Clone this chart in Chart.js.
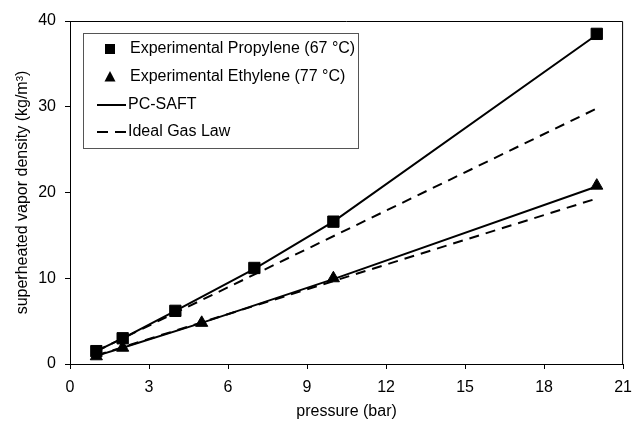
<!DOCTYPE html>
<html><head><meta charset="utf-8">
<script src="https://cdn.jsdelivr.net/npm/chart.js@4"></script>
<style>html,body{margin:0;padding:0;background:#fff}#wrap{width:641px;height:426px}</style>
</head><body><div id="wrap"><canvas id="c" width="641" height="426"></canvas></div>
<script>
const propExpX = [1, 2, 4, 7, 10, 20];
const propExpY = [1.5, 3.0, 6.2, 11.2, 16.6, 38.5];
const ethExpX = [1, 2, 5, 10, 20];
const ethExpY = [0.9, 1.9, 4.8, 10.0, 20.8];
const propSaftX = [1, 2, 4, 7, 10, 20];
const propSaftY = [1.5, 3.0, 6.2, 11.1, 16.6, 38.4];
const ethSaftX = [1, 2, 5, 10, 20];
const ethSaftY = [0.95, 1.9, 4.8, 9.9, 20.7];
const propIdealX = [1, 20];
const propIdealY = [1.5, 29.8];
const ethIdealX = [1, 20];
const ethIdealY = [1.0, 19.3];
const xTicks = [0, 3, 6, 9, 12, 15, 18, 21];
const yTicks = [0, 10, 20, 30, 40];

const pts = (xs, ys) => xs.map((x, i) => ({x, y: ys[i]}));
const FONT = "'Liberation Sans', Arial, sans-serif";

const legendItems = [
  {label: 'Experimental Propylene (67 °C)', type: 'rect'},
  {label: 'Experimental Ethylene (77 °C)', type: 'triangle'},
  {label: 'PC-SAFT', type: 'solid'},
  {label: 'Ideal Gas Law', type: 'dash'}
];

const framePlugin = {
  id: 'frame',
  afterDraw(chart) {
    const {ctx, chartArea: a} = chart;
    ctx.save();
    ctx.strokeStyle = '#000';
    ctx.lineWidth = 1;
    ctx.beginPath();
    ctx.moveTo(a.left, a.top + 0.5);
    ctx.lineTo(a.right - 0.5, a.top + 0.5);
    ctx.lineTo(a.right - 0.5, a.bottom);
    ctx.stroke();
    // legend
    const bx = 83.5, by = 33.5, bw = 275, bh = 115;
    ctx.strokeStyle = '#555';
    ctx.fillStyle = '#fff';
    ctx.fillRect(bx, by, bw, bh);
    ctx.strokeRect(bx, by, bw, bh);
    ctx.font = '16px ' + FONT;
    ctx.textBaseline = 'middle';
    const rows = [49, 77, 105, 132];
    legendItems.forEach((it, i) => {
      const y = rows[i];
      ctx.fillStyle = '#000';
      ctx.strokeStyle = '#000';
      if (it.type === 'rect') {
        ctx.fillRect(105, y - 5, 10, 10);
        ctx.fillText(it.label, 130, y);
      } else if (it.type === 'triangle') {
        ctx.beginPath();
        ctx.moveTo(110, y - 6);
        ctx.lineTo(115.5, y + 4.5);
        ctx.lineTo(104.5, y + 4.5);
        ctx.closePath();
        ctx.fill();
        ctx.fillText(it.label, 130, y);
      } else {
        ctx.lineWidth = 2;
        ctx.setLineDash(it.type === 'dash' ? [11, 7] : []);
        ctx.beginPath();
        ctx.moveTo(97, y);
        ctx.lineTo(126, y);
        ctx.stroke();
        ctx.setLineDash([]);
        ctx.fillText(it.label, 128, y);
      }
    });
    ctx.restore();
  }
};

new Chart(document.getElementById('c'), {
  type: 'scatter',
  data: {
    datasets: [
      {label: 'PC-SAFT', data: pts(propSaftX, propSaftY), showLine: true, borderColor: '#000', borderWidth: 2, pointRadius: 0, fill: false},
      {label: 'PC-SAFT ethylene', data: pts(ethSaftX, ethSaftY), showLine: true, borderColor: '#000', borderWidth: 2, pointRadius: 0, fill: false},
      {label: 'Ideal Gas Law', data: pts(propIdealX, propIdealY), showLine: true, borderColor: '#000', borderWidth: 2, borderDash: [10, 7], pointRadius: 0, fill: false},
      {label: 'Ideal Gas Law ethylene', data: pts(ethIdealX, ethIdealY), showLine: true, borderColor: '#000', borderWidth: 2, borderDash: [10, 7], pointRadius: 0, fill: false},
      {label: 'Experimental Propylene (67 °C)', data: pts(propExpX, propExpY), pointStyle: 'rect', pointRadius: 8, backgroundColor: '#000', borderColor: '#000', borderWidth: 1},
      {label: 'Experimental Ethylene (77 °C)', data: pts(ethExpX, ethExpY), pointStyle: 'triangle', pointRadius: 7, backgroundColor: '#000', borderColor: '#000', borderWidth: 1}
    ]
  },
  options: {
    responsive: false,
    animation: false,
    layout: {padding: {top: 21, right: 11, left: 0, bottom: 0}},
    plugins: {legend: {display: false}, tooltip: {enabled: false}},
    scales: {
      x: {
        type: 'linear', min: 0, max: 21,
        afterBuildTicks: s => { s.ticks = xTicks.map(v => ({value: v})); },
        afterFit: s => { s.height = 62; },
        grid: {drawOnChartArea: false, color: '#000', tickLength: 5, tickWidth: 1},
        border: {color: '#000', width: 1},
        ticks: {color: '#000', font: {size: 16, family: FONT}, padding: 9, maxRotation: 0},
        title: {display: true, text: 'pressure (bar)', color: '#000', font: {size: 16, family: FONT}, padding: {top: 4, bottom: 5}}
      },
      y: {
        type: 'linear', min: 0, max: 40,
        afterBuildTicks: s => { s.ticks = yTicks.map(v => ({value: v})); },
        afterFit: s => { s.width = 70; },
        grid: {drawOnChartArea: false, color: '#000', tickLength: 5, tickWidth: 1},
        border: {color: '#000', width: 1},
        ticks: {color: '#000', font: {size: 16, family: FONT}, padding: 9},
        title: {display: true, text: 'superheated vapor density (kg/m³)', color: '#000', font: {size: 16, family: FONT}, padding: {top: 13, bottom: 4}}
      }
    }
  },
  plugins: [framePlugin]
});
</script>
</body></html>
